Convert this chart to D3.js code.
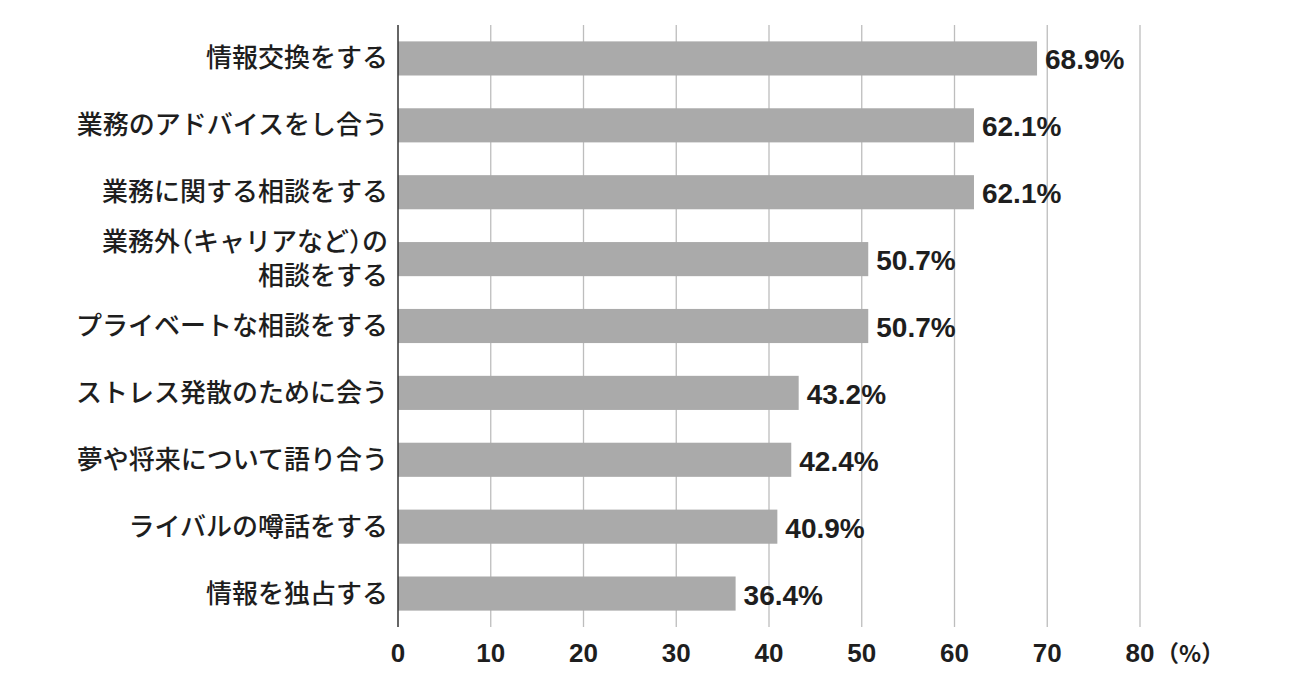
<!DOCTYPE html>
<html>
<head>
<meta charset="utf-8">
<script src="https://cdn.jsdelivr.net/npm/d3@7"></script>
<style>
  body { margin: 0; background: #fff; }
  .cat { font-family: "Noto Sans CJK JP", sans-serif; font-weight: 500; font-size: 26px; fill: #1e1e1e; }
  .cat .paren { font-feature-settings: "halt"; }
  .val { font-family: "Liberation Sans", Arial, sans-serif; font-weight: bold; font-size: 28px; fill: #1e1e1e; }
  .tick-lbl { font-family: "Liberation Sans", Arial, sans-serif; font-weight: bold; font-size: 26px; fill: #1e1e1e; }
</style>
</head>
<body>
<div id="chart"></div>
<script>
// data
var categories = [
  ["情報交換をする"],
  ["業務のアドバイスをし合う"],
  ["業務に関する相談をする"],
  ["業務外（キャリアなど）の", "相談をする"],
  ["プライベートな相談をする"],
  ["ストレス発散のために会う"],
  ["夢や将来について語り合う"],
  ["ライバルの噂話をする"],
  ["情報を独占する"]
];
var values = [68.9, 62.1, 62.1, 50.7, 50.7, 43.2, 42.4, 40.9, 36.4];
var ticks = [0, 10, 20, 30, 40, 50, 60, 70, 80];

var width = 1300, height = 683;

var svg = d3.select("#chart").append("svg")
  .attr("width", width)
  .attr("height", height);

var x = d3.scaleLinear().domain([0, 80]).range([398, 1140]);
var y = d3.scaleBand()
  .domain(d3.range(categories.length))
  .range([25, 627])
  .paddingInner(0.49)
  .paddingOuter(0.245);

// gridlines
svg.append("g").selectAll("line")
  .data(ticks.slice(1))
  .enter().append("line")
  .attr("x1", function(d) { return x(d); })
  .attr("x2", function(d) { return x(d); })
  .attr("y1", 25)
  .attr("y2", 627)
  .attr("stroke", "#bdbdbd")
  .attr("stroke-width", 1.3);

// bars
svg.append("g").selectAll("rect")
  .data(values)
  .enter().append("rect")
  .attr("x", x(0))
  .attr("y", function(d, i) { return y(i); })
  .attr("width", function(d) { return x(d) - x(0); })
  .attr("height", y.bandwidth())
  .attr("fill", "#aaaaaa");

// axis line
svg.append("line")
  .attr("x1", x(0)).attr("x2", x(0))
  .attr("y1", 25).attr("y2", 627)
  .attr("stroke", "#333")
  .attr("stroke-width", 1.5);

// value labels
svg.append("g").selectAll("text")
  .data(values)
  .enter().append("text")
  .attr("class", "val")
  .attr("x", function(d) { return x(d) + 8; })
  .attr("y", function(d, i) { return y(i) + y.bandwidth() / 2 + 11; })
  .text(function(d) { return d.toFixed(1) + "%"; });

// category labels (one text per line)
var lines = [];
categories.forEach(function(d, i) {
  d.forEach(function(line, j) {
    lines.push({ text: line, i: i, j: j, n: d.length });
  });
});

svg.append("g").selectAll("text")
  .data(lines)
  .enter().append("text")
  .attr("class", "cat")
  .attr("text-anchor", "end")
  .attr("x", 388)
  .attr("y", function(d) {
    var c = y(d.i) + y.bandwidth() / 2 + 9;
    return c - (d.n - 1) * 17 + d.j * 34;
  })
  .each(function(d) {
    var t = d3.select(this);
    d.text.split(/([（）])/).forEach(function(part) {
      if (!part) return;
      t.append("tspan")
        .attr("class", /[（）]/.test(part) ? "paren" : null)
        .text(part);
    });
  });

// tick labels
svg.append("g").selectAll("text")
  .data(ticks)
  .enter().append("text")
  .attr("class", "tick-lbl")
  .attr("text-anchor", "middle")
  .attr("x", function(d) { return x(d); })
  .attr("y", 662)
  .text(function(d) { return d; });

svg.append("text")
  .attr("x", x(80) + 16)
  .attr("y", 662)
  .attr("font-family", "Noto Sans CJK JP, sans-serif")
  .attr("font-weight", "bold")
  .attr("font-size", "23px")
  .attr("fill", "#1e1e1e")
  .text("（%）");
</script>
</body>
</html>
